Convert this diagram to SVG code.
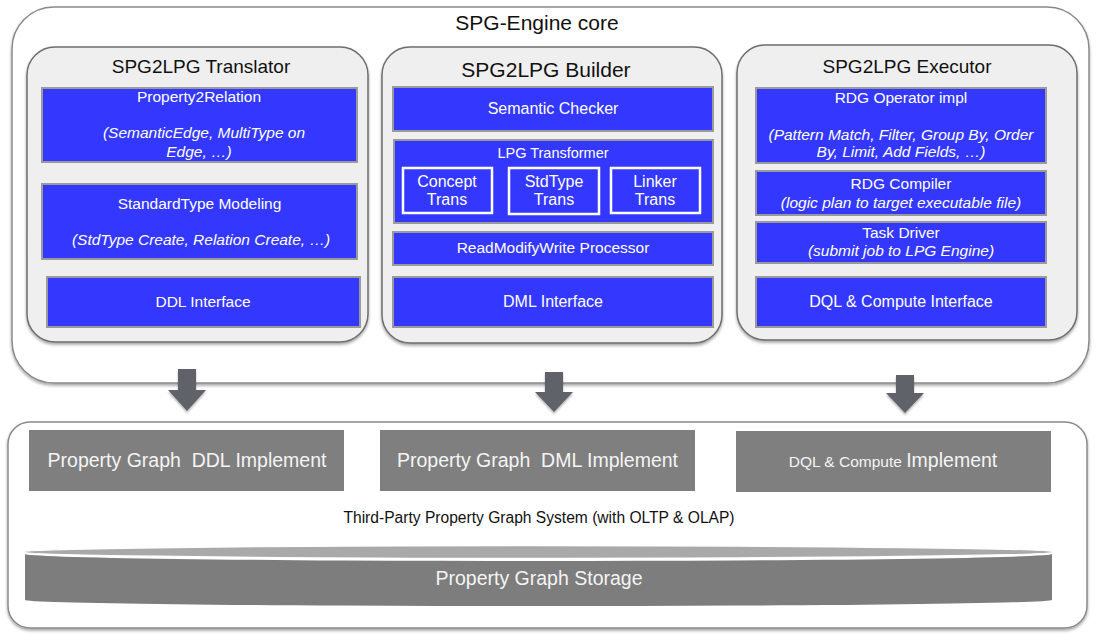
<svg xmlns="http://www.w3.org/2000/svg" width="1098" height="634" viewBox="0 0 1098 634">
<defs>
<filter id="sh" x="-5%" y="-5%" width="110%" height="115%">
<feDropShadow dx="0" dy="2" stdDeviation="1.5" flood-color="#000" flood-opacity="0.35"/>
</filter>
<filter id="ash" x="-30%" y="-30%" width="160%" height="160%">
<feDropShadow dx="0" dy="2" stdDeviation="1.2" flood-color="#000" flood-opacity="0.3"/>
</filter>
</defs>
<style>
text{font-family:"Liberation Sans",Arial,Helvetica,sans-serif;text-anchor:middle}
.outer{fill:#fff;stroke:#8a8a8a;stroke-width:1.5}
.cont{fill:#efefef;stroke:#6e6e6e;stroke-width:1.5}
.blue{fill:#3438ff;stroke:#9a9a9a;stroke-width:2}
.sub{fill:none;stroke:#fff;stroke-width:2.5}
.gray{fill:#7f7f7f}
.arrow{fill:#5e6268}
.t1{font-size:21px;fill:#111}
.t2{font-size:19px;fill:#111}
.w{fill:#fff;font-size:15.5px}
.wi{fill:#fff;font-size:15.5px;font-style:italic}
.g{fill:#f4f4f4;font-size:19.5px}
.blk{fill:#111;font-size:15.6px}
</style>

<g id="core">
<rect class="outer" x="12" y="7" width="1077" height="376" rx="42" filter="url(#sh)"/>
<text class="t1" x="537" y="30">SPG-Engine core</text>
</g>

<g id="translator">
<rect class="cont" x="27" y="47" width="341" height="295" rx="28" filter="url(#sh)"/>
<text class="t2" x="201" y="73">SPG2LPG Translator</text>
</g>
<g id="property2relation">
<rect class="blue" x="42" y="88" width="315" height="74"/>
<text class="w" x="199" y="102">Property2Relation</text>
<text class="wi" x="204" y="138">(SemanticEdge, MultiType on</text>
<text class="wi" x="199" y="157">Edge, …)</text>
</g>
<g id="standardtype">
<rect class="blue" x="42" y="184" width="315" height="75"/>
<text class="w" x="199.5" y="209">StandardType Modeling</text>
<text class="wi" x="201" y="245">(StdType Create, Relation Create, …)</text>
</g>
<g id="ddl-interface">
<rect class="blue" x="47" y="277" width="313" height="50"/>
<text class="w" x="203" y="307">DDL Interface</text>
</g>

<g id="builder">
<rect class="cont" x="382" y="47" width="340" height="296" rx="28" filter="url(#sh)"/>
<text class="t1" x="546" y="77">SPG2LPG Builder</text>
</g>
<g id="semantic-checker">
<rect class="blue" x="393" y="87" width="320" height="44"/>
<text class="w" x="553" y="114" style="font-size:16px">Semantic Checker</text>
</g>
<g id="lpg-transformer">
<rect class="blue" x="394" y="140" width="319" height="83"/>
<text class="w" x="553" y="158" style="font-size:14.5px">LPG Transformer</text>
</g>
<g id="concept-trans">
<rect class="sub" x="403" y="168" width="89" height="45"/>
<text class="w" x="447" y="187" style="font-size:16px">Concept</text>
<text class="w" x="447" y="205" style="font-size:16px">Trans</text>
</g>
<g id="stdtype-trans">
<rect class="sub" x="509" y="168" width="90" height="46"/>
<text class="w" x="554" y="187" style="font-size:16px">StdType</text>
<text class="w" x="554" y="205" style="font-size:16px">Trans</text>
</g>
<g id="linker-trans">
<rect class="sub" x="611" y="168" width="89" height="45"/>
<text class="w" x="655" y="187" style="font-size:16px">Linker</text>
<text class="w" x="655" y="205" style="font-size:16px">Trans</text>
</g>
<g id="rmw-processor">
<rect class="blue" x="393" y="232" width="320" height="33"/>
<text class="w" x="553" y="253">ReadModifyWrite Processor</text>
</g>
<g id="dml-interface">
<rect class="blue" x="393" y="277" width="320" height="50"/>
<text class="w" x="553" y="307" style="font-size:16px">DML Interface</text>
</g>

<g id="executor">
<rect class="cont" x="737" y="45" width="340" height="295" rx="28" filter="url(#sh)"/>
<text class="t2" x="907" y="73">SPG2LPG Executor</text>
</g>
<g id="rdg-operator">
<rect class="blue" x="756" y="88" width="290" height="75"/>
<text class="w" x="901" y="103">RDG Operator impl</text>
<text class="wi" x="901" y="140">(Pattern Match, Filter, Group By, Order</text>
<text class="wi" x="901" y="157">By, Limit, Add Fields, …)</text>
</g>
<g id="rdg-compiler">
<rect class="blue" x="756" y="171" width="290" height="44"/>
<text class="w" x="901" y="189">RDG Compiler</text>
<text class="wi" x="901" y="208">(logic plan to target executable file)</text>
</g>
<g id="task-driver">
<rect class="blue" x="756" y="222" width="290" height="41"/>
<text class="w" x="901" y="238">Task Driver</text>
<text class="wi" x="901" y="256">(submit job to LPG Engine)</text>
</g>
<g id="dql-interface">
<rect class="blue" x="756" y="277" width="290" height="50"/>
<text class="w" x="901" y="307" style="font-size:16px">DQL &amp; Compute Interface</text>
</g>

<g id="third-party">
<rect class="outer" x="8" y="422" width="1079" height="206" rx="22" filter="url(#sh)"/>
<text class="blk" x="539" y="523">Third-Party Property Graph System (with OLTP &amp; OLAP)</text>
</g>
<g id="ddl-implement">
<rect class="gray" x="29" y="430" width="315" height="61"/>
<text class="g" x="187" y="467" xml:space="preserve">Property Graph  DDL Implement</text>
</g>
<g id="dml-implement">
<rect class="gray" x="380" y="430" width="315" height="61"/>
<text class="g" x="537.5" y="467" xml:space="preserve">Property Graph  DML Implement</text>
</g>
<g id="dql-implement">
<rect class="gray" x="736" y="431" width="315" height="61"/>
<text class="g" x="893" y="467"><tspan style="font-size:15.5px">DQL &amp; Compute </tspan>Implement</text>
</g>
<g id="storage">
<path d="M25,554 A513.5,7 0 0 0 1052,554 L1052,600 A513.5,6 0 0 1 25,600 Z" fill="#7d7d7d"/>
<ellipse cx="538.5" cy="552" rx="513.5" ry="6.5" fill="#a9a9a9" stroke="#fff" stroke-width="1.5"/>
<text class="g" x="539" y="585">Property Graph Storage</text>
</g>

<g id="connectors">
<path class="arrow" filter="url(#ash)" d="M178,369 H196 V390 H206 L187,411 L168,390 H178 Z"/>
<path class="arrow" filter="url(#ash)" d="M545,372 H563 V392 H573 L554,412 L535,392 H545 Z"/>
<path class="arrow" filter="url(#ash)" d="M896,375 H914 V393 H924 L905,413 L886,393 H896 Z"/>
</g>
</svg>
